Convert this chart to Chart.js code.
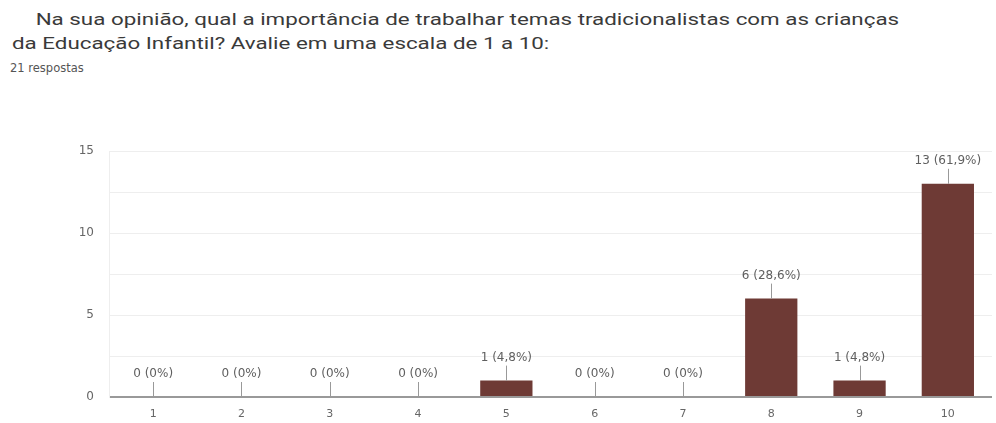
<!DOCTYPE html>
<html lang="pt-BR">
<head>
<meta charset="utf-8">
<title>Importância de temas tradicionalistas</title>
<script src="https://cdn.jsdelivr.net/npm/chart.js@4/dist/chart.umd.min.js"></script>
<style>
  html, body { margin: 0; padding: 0; background: #fff; }
  body { width: 996px; height: 423px; position: relative; overflow: hidden; font-family: Roboto, "Open Sans", sans-serif; }
  .titulo { position: absolute; left: 12px; top: 7px; font-size: 17px; line-height: 24px; color: #3a3a3a;
            transform: scaleX(1.315); transform-origin: 0 0; white-space: nowrap; }
  .titulo .l1 { padding-left: 18px; }
  .respostas { position: absolute; left: 10px; top: 61px; font-size: 11.5px; color: #555; font-family: "DejaVu Sans", sans-serif; }
  .grafico { position: absolute; left: 0; top: 120px; width: 996px; height: 303px; }
</style>
</head>
<body>
<div class="titulo">
  <div class="l1">Na sua opinião, qual a importância de trabalhar temas tradicionalistas com as crianças</div>
  <div>da Educação Infantil? Avalie em uma escala de 1 a 10:</div>
</div>
<div class="respostas">21 respostas</div>
<div class="grafico"><canvas id="canvas-escala"></canvas></div>

<script>
const notas = ["1", "2", "3", "4", "5", "6", "7", "8", "9", "10"];
const respostas = [0, 0, 0, 0, 1, 0, 0, 6, 1, 13];
const ticksY = [0, 5, 10, 15];

const totalRespostas = respostas.reduce((a, b) => a + b, 0);

function rotulo(valor) {
  const pct = (valor / totalRespostas) * 100;
  let txt = pct === 0 ? "0" : pct.toFixed(1).replace(".", ",");
  return valor + " (" + txt + "%)";
}

// rótulos com linha guia acima de cada barra
const rotulosBarras = {
  id: "rotulosBarras",
  afterDatasetsDraw(chart) {
    const ctx = chart.ctx;
    const meta = chart.getDatasetMeta(0);
    ctx.save();
    ctx.font = "12px 'DejaVu Sans', sans-serif";
    ctx.fillStyle = "#5f5f5f";
    ctx.textAlign = "center";
    ctx.textBaseline = "middle";
    ctx.strokeStyle = "#999";
    ctx.lineWidth = 1;
    meta.data.forEach((bar, i) => {
      const x = Math.round(bar.x) + 0.5;
      ctx.beginPath();
      ctx.moveTo(x, bar.y - 15);
      ctx.lineTo(x, bar.y);
      ctx.stroke();
      ctx.fillText(rotulo(respostas[i]), bar.x, bar.y - 23);
    });
    ctx.restore();
  },
};

const config = {
  type: "bar",
  data: {
    labels: notas,
    datasets: [
      {
        data: respostas,
        backgroundColor: "#6e3a35",
        barPercentage: 0.74,
        categoryPercentage: 0.8,
      },
    ],
  },
  options: {
    responsive: true,
    maintainAspectRatio: false,
    animation: false,
    layout: { padding: { top: 31, right: 4 } },
    plugins: {
      legend: { display: false },
      tooltip: { enabled: false },
    },
    scales: {
      x: {
        grid: { display: false },
        border: { display: false },
        ticks: { color: "#666", font: { size: 11, family: "DejaVu Sans" }, padding: 3 },
        afterFit(scale) { scale.height = 26; },
      },
      y: {
        min: 0,
        max: 15,
        afterBuildTicks(scale) {
          scale.ticks = [0, 2.5, 5, 7.5, 10, 12.5, 15].map((v) => ({ value: v }));
        },
        ticks: {
          color: "#666",
          font: { size: 12, family: "DejaVu Sans" },
          padding: 15,
          callback: (v) => (ticksY.includes(v) ? v : ""),
        },
        grid: {
          drawTicks: false,
          color: (c) => (c.tick && c.tick.value === 0 ? "#999" : "#eeeeee"),
          lineWidth: (c) => (c.tick && c.tick.value === 0 ? 2 : 1),
        },
        border: { display: true, color: "#eeeeee" },
        afterFit(scale) { scale.width = 109; },
      },
    },
  },
  plugins: [rotulosBarras],
};

new Chart(document.getElementById("canvas-escala"), config);
</script>
</body>
</html>
